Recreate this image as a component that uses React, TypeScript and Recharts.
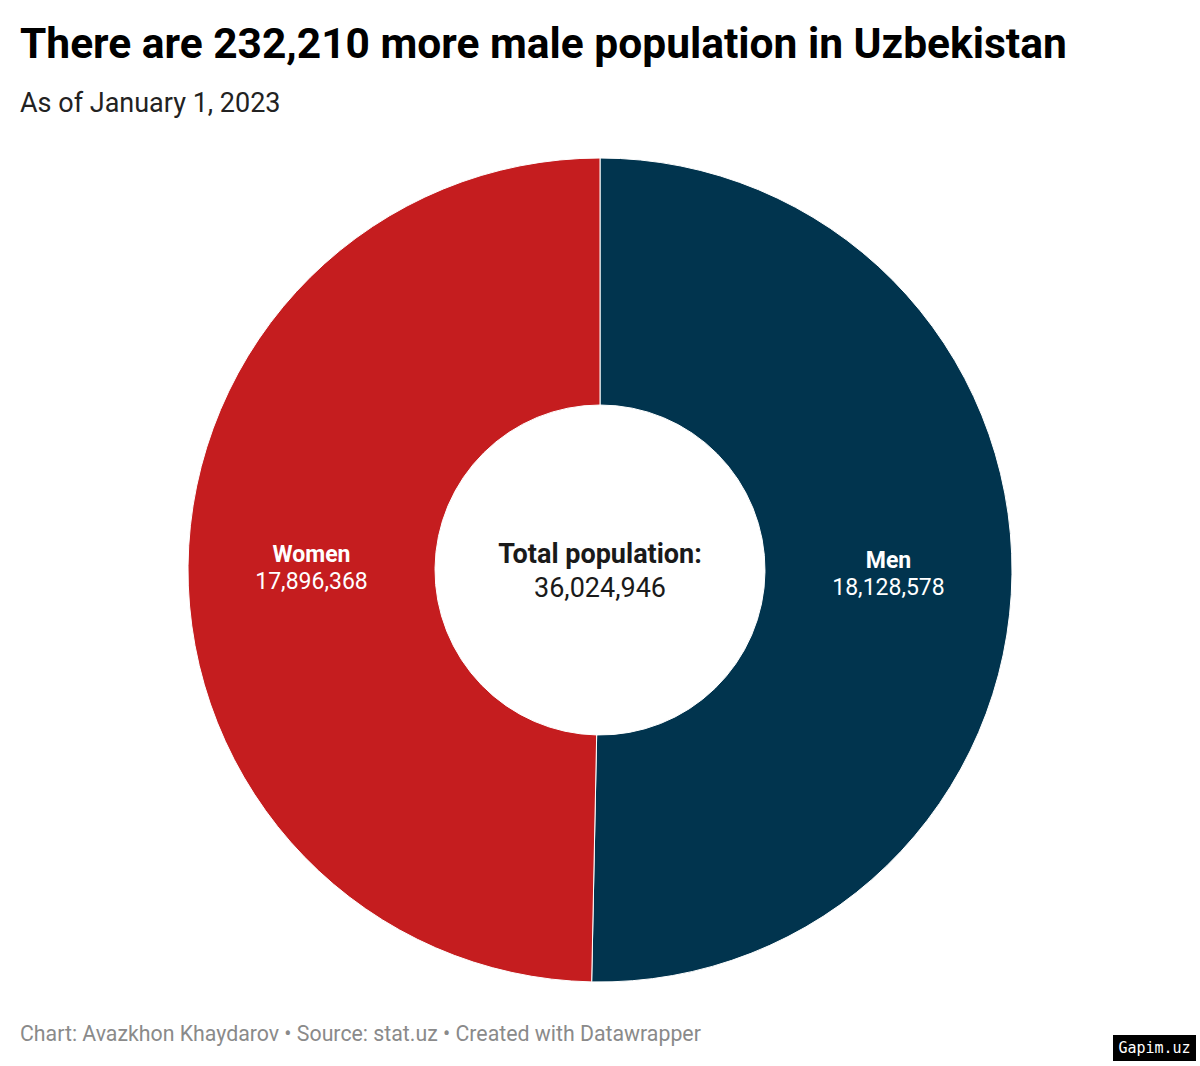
import { PieChart, Pie, Cell } from "recharts";

// population by sex, as of January 1, 2023
const groups = ["Men", "Women"];
const population = [18128578, 17896368];
const colors = ["#01344e", "#c51d1f"];

const total = population.reduce((a, b) => a + b, 0);
const data = groups.map((name, i) => ({ name, value: population[i] }));

const fmt = (n: number) => n.toLocaleString("en-US");

const RADIAN = Math.PI / 180;

const renderLabel = (props: any) => {
  const { cx, cy, midAngle, innerRadius, outerRadius, name, value } = props;
  const r = (innerRadius + outerRadius) / 2;
  const x = cx + r * Math.cos(-midAngle * RADIAN);
  const y = cy + r * Math.sin(-midAngle * RADIAN);
  return (
    <text x={x} y={y} textAnchor="middle" fill="#ffffff" fontFamily="Roboto">
      <tspan x={x} dy={-5} fontSize={23} fontWeight={700}>
        {name}
      </tspan>
      <tspan x={x} dy={27} fontSize={23}>
        {fmt(value)}
      </tspan>
    </text>
  );
};

const App = () => {
  return (
    <div
      style={{
        position: "absolute",
        top: 0,
        left: 0,
        width: 1200,
        height: 1066,
        background: "#fff",
        fontFamily: "Roboto",
      }}
    >
      <div
        style={{
          position: "absolute",
          left: 20,
          top: 23,
          fontSize: 42.5,
          lineHeight: 1,
          fontWeight: 700,
          color: "#000",
          whiteSpace: "nowrap",
        }}
      >
        There are 232,210 more male population in Uzbekistan
      </div>
      <div
        style={{
          position: "absolute",
          left: 20,
          top: 90,
          fontSize: 27,
          lineHeight: 1,
          color: "#222",
          whiteSpace: "nowrap",
        }}
      >
        As of January 1, 2023
      </div>
      <div style={{ position: "absolute", left: 0, top: 0 }}>
        <PieChart width={1200} height={1066} margin={{ top: 0, right: 0, bottom: 0, left: 0 }}>
          <Pie
            data={data}
            dataKey="value"
            nameKey="name"
            cx={600}
            cy={570}
            innerRadius={165}
            outerRadius={412}
            startAngle={90}
            endAngle={-270}
            stroke="#ffffff"
            strokeWidth={1}
            label={renderLabel}
            labelLine={false}
            isAnimationActive={false}
          >
            {data.map((d, i) => (
              <Cell key={d.name} fill={colors[i]} />
            ))}
          </Pie>
          <text x={600} y={563} textAnchor="middle" fontFamily="Roboto" fill="#1a1a1a">
            <tspan x={600} fontSize={27} fontWeight={700}>
              Total population:
            </tspan>
            <tspan x={600} dy={34} fontSize={27}>
              {fmt(total)}
            </tspan>
          </text>
        </PieChart>
      </div>
      <div
        style={{
          position: "absolute",
          left: 20,
          top: 1023,
          fontSize: 21.3,
          lineHeight: 1,
          color: "#8a8a8a",
          whiteSpace: "nowrap",
        }}
      >
        Chart: Avazkhon Khaydarov • Source: stat.uz • Created with Datawrapper
      </div>
      <div
        style={{
          position: "absolute",
          left: 1113,
          top: 1035,
          width: 83,
          height: 26,
          background: "#000",
          color: "#fff",
          fontFamily: "DejaVu Sans Mono",
          fontSize: 15,
          lineHeight: "26px",
          textAlign: "center",
        }}
      >
        Gapim.uz
      </div>
    </div>
  );
};

export default App;
